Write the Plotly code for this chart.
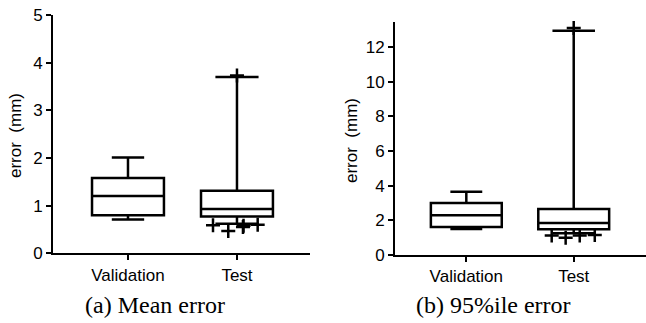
import plotly.graph_objects as go

categories = ["Validation", "Test"]

# (a) Mean error box statistics
mean_q1 = [0.80, 0.77]
mean_median = [1.20, 0.93]
mean_q3 = [1.58, 1.31]
mean_low = [0.71, 0.62]
mean_high = [2.01, 3.70]
mean_out_cat = [1, 1, 1, 1, 1, 1]
mean_out_jitter = [-0.22, -0.08, 0.055, 0.06, 0.19, 0.0]
mean_out_y = [0.59, 0.47, 0.55, 0.58, 0.60, 3.73]

# (b) 95%ile error box statistics
p95_q1 = [1.62, 1.48]
p95_median = [2.30, 1.85]
p95_q3 = [3.00, 2.65]
p95_low = [1.50, 1.25]
p95_high = [3.65, 12.95]
p95_out_cat = [1, 1, 1, 1, 1]
p95_out_jitter = [-0.205, -0.075, 0.056, 0.196, 0.0]
p95_out_y = [1.12, 1.00, 1.12, 1.15, 13.10]

whisker_widths = [0.45, 0.6]

FONT = "Liberation Sans, Arial, sans-serif"
SERIF = "Liberation Serif, Times New Roman, serif"

fig = go.Figure()


def add_panel(xa, ya, q1, med, q3, lo, hi, oc, oj, oy):
    for i, cat in enumerate(categories):
        fig.add_trace(go.Box(
            x=[i], q1=[q1[i]], median=[med[i]], q3=[q3[i]],
            lowerfence=[lo[i]], upperfence=[hi[i]],
            width=0.66, whiskerwidth=whisker_widths[i],
            fillcolor="white", line=dict(color="black", width=2.5),
            boxpoints=False, showlegend=False, xaxis=xa, yaxis=ya,
        ))
    fig.add_trace(go.Scatter(
        x=[c + j for c, j in zip(oc, oj)], y=oy, mode="markers",
        marker=dict(symbol="cross-thin", size=10, color="black",
                    line=dict(width=2.5, color="black")),
        showlegend=False, xaxis=xa, yaxis=ya, cliponaxis=False,
    ))


add_panel("x", "y", mean_q1, mean_median, mean_q3, mean_low, mean_high,
          mean_out_cat, mean_out_jitter, mean_out_y)
add_panel("x2", "y2", p95_q1, p95_median, p95_q3, p95_low, p95_high,
          p95_out_cat, p95_out_jitter, p95_out_y)

W, H = 646, 323
axis_common = dict(showline=True, linecolor="black", linewidth=2,
                   ticks="outside", ticklen=5, tickwidth=2, tickcolor="black",
                   showgrid=False, zeroline=False, automargin=False,
                   tickfont=dict(family=FONT, size=17, color="black"))

ann_common = dict(xref="paper", yref="paper", showarrow=False,
                  xanchor="center", yanchor="middle")

fig.update_layout(
    template="none",
    width=W, height=H, margin=dict(l=0, r=0, t=0, b=0, pad=0),
    plot_bgcolor="white", paper_bgcolor="white",
    xaxis=dict(domain=[53 / W, 310 / W], range=[-0.688, 1.67],
               tickvals=[0, 1], ticktext=categories, anchor="y", **axis_common),
    yaxis=dict(domain=[(H - 253.3) / H, (H - 15) / H], range=[0, 5],
               tickvals=[0, 1, 2, 3, 4, 5], anchor="x", **axis_common),
    xaxis2=dict(domain=[395 / W, 1.0], range=[-0.664, 1.673],
                tickvals=[0, 1], ticktext=categories, anchor="y2", **axis_common),
    yaxis2=dict(domain=[(H - 255) / H, (H - 22) / H], range=[0, 13.45],
                tickvals=[0, 2, 4, 6, 8, 10, 12], anchor="x2", **axis_common),
    annotations=[
        dict(text="error  (mm)", x=15 / W, y=(H - 136) / H, textangle=-90,
             font=dict(family=FONT, size=17, color="black"), **ann_common),
        dict(text="error  (mm)", x=351 / W, y=(H - 140) / H, textangle=-90,
             font=dict(family=FONT, size=17, color="black"), **ann_common),
        dict(text="(a) Mean error", x=155 / W, y=(H - 305) / H,
             font=dict(family=SERIF, size=24, color="black"), **ann_common),
        dict(text="(b) 95%ile error", x=493 / W, y=(H - 305) / H,
             font=dict(family=SERIF, size=24, color="black"), **ann_common),
    ],
)

fig.write_html("out.html", config={"displayModeBar": False},
               post_script="document.body.style.margin='0';document.body.style.padding='0';")
